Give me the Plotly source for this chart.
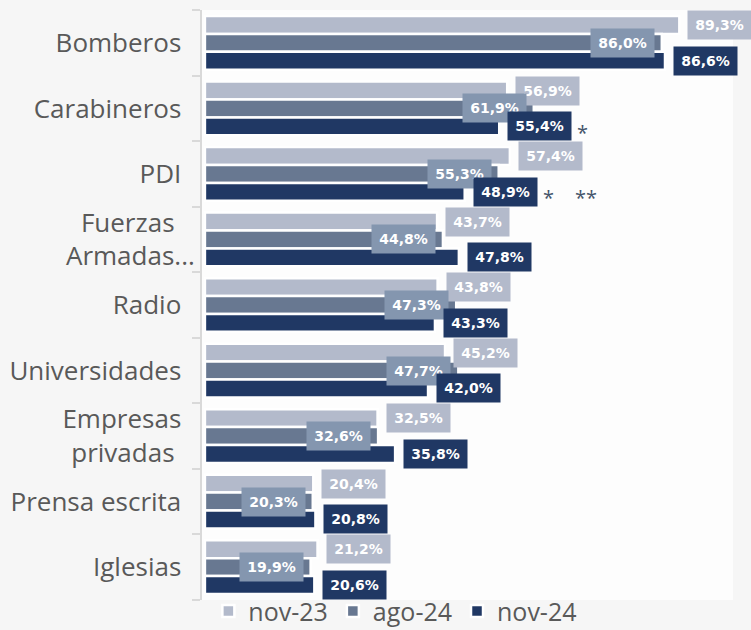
import plotly.graph_objects as go

categories = ["Bomberos", "Carabineros", "PDI", "Fuerzas Armadas...", "Radio",
              "Universidades", "Empresas privadas", "Prensa escrita", "Iglesias"]
tick_labels = ["Bomberos\u00a0\u00a0", "Carabineros\u00a0\u00a0", "PDI\u00a0\u00a0",
               "Fuerzas\u00a0\u00a0\u00a0<br>Armadas...", "Radio\u00a0\u00a0",
               "Universidades\u00a0\u00a0", "Empresas\u00a0\u00a0<br>privadas\u00a0\u00a0\u00a0",
               "Prensa escrita\u00a0\u00a0", "Iglesias\u00a0\u00a0"]
series_names = ["nov-23", "ago-24", "nov-24"]
nov23 = [89.3, 56.9, 57.4, 43.7, 43.8, 45.2, 32.5, 20.4, 21.2]
ago24 = [86.0, 61.9, 55.3, 44.8, 47.3, 47.7, 32.6, 20.3, 19.9]
nov24 = [86.6, 55.4, 48.9, 47.8, 43.3, 42.0, 35.8, 20.8, 20.6]
stars = {"Carabineros": ["*"], "PDI": ["*", "**"]}

bar_colors = ["#b3bacb", "#687891", "#203864"]
label_bg = ["#b3bacb", "#8496af", "#203864"]
FONT = "Open Sans, DejaVu Sans, sans-serif"
LABEL_FONT = "DejaVu Sans, sans-serif"

fig = go.Figure()
for name, vals, col in zip(series_names, [nov23, ago24, nov24], bar_colors):
    fig.add_trace(go.Bar(
        y=categories, x=vals, name=name, orientation="h",
        marker=dict(color=col, line=dict(color="white", width=2.5)),
        hoverinfo="skip",
    ))

bargap = 0.18
slot = (1 - bargap) / 3
annotations = []
for s, vals in enumerate([nov23, ago24, nov24]):
    off = (s - 1) * slot
    for i, v in enumerate(vals):
        txt = f"{v:.1f}%".replace(".", ",")
        if s == 1:
            xa, xs = "right", -7
        else:
            xa, xs = "left", 8
        annotations.append(dict(
            x=v, y=i + off, xref="x", yref="y", text=f"<b>{txt}</b>",
            showarrow=False, xanchor=xa, xshift=xs, yanchor="middle",
            width=63, height=28, borderpad=0, bgcolor=label_bg[s],
            font=dict(family=LABEL_FONT, size=14, color="white"),
        ))

for cat, marks in stars.items():
    i = categories.index(cat)
    v = nov24[i]
    for k, m in enumerate(marks):
        annotations.append(dict(
            x=v, y=i + slot, xref="x", yref="y", text=m, showarrow=False,
            xanchor="left", xshift=76 + 32 * k, yshift=-6,
            font=dict(family=FONT, size=20, color="#44546a"),
        ))

fig.update_layout(
    width=751, height=630,
    margin=dict(l=202, r=18, t=10, b=30, autoexpand=False),
    paper_bgcolor="#f6f6f6", plot_bgcolor="#fdfdfd",
    barmode="group", bargap=bargap, bargroupgap=0,
    showlegend=True,
    legend=dict(orientation="h", x=0.012, xanchor="left", y=-0.058, yanchor="bottom",
                font=dict(family=FONT, size=25, color="#595959"),
                bgcolor="rgba(0,0,0,0)", traceorder="normal"),
    xaxis=dict(range=[-0.55, 99.4], visible=False, fixedrange=True),
    yaxis=dict(categoryorder="array", categoryarray=categories,
               tickvals=categories, ticktext=tick_labels,
               autorange="reversed", showline=True, linecolor="#d9d9d9", linewidth=2,
               ticks="outside", tickson="boundaries", ticklen=8, tickcolor="#d9d9d9",
               tickwidth=2, showgrid=False, fixedrange=True,
               tickfont=dict(family=FONT, size=26, color="#595959")),
    annotations=annotations,
)

fig.write_html("out.html", config={"displayModeBar": False},
               post_script="document.body.style.margin='0';")
